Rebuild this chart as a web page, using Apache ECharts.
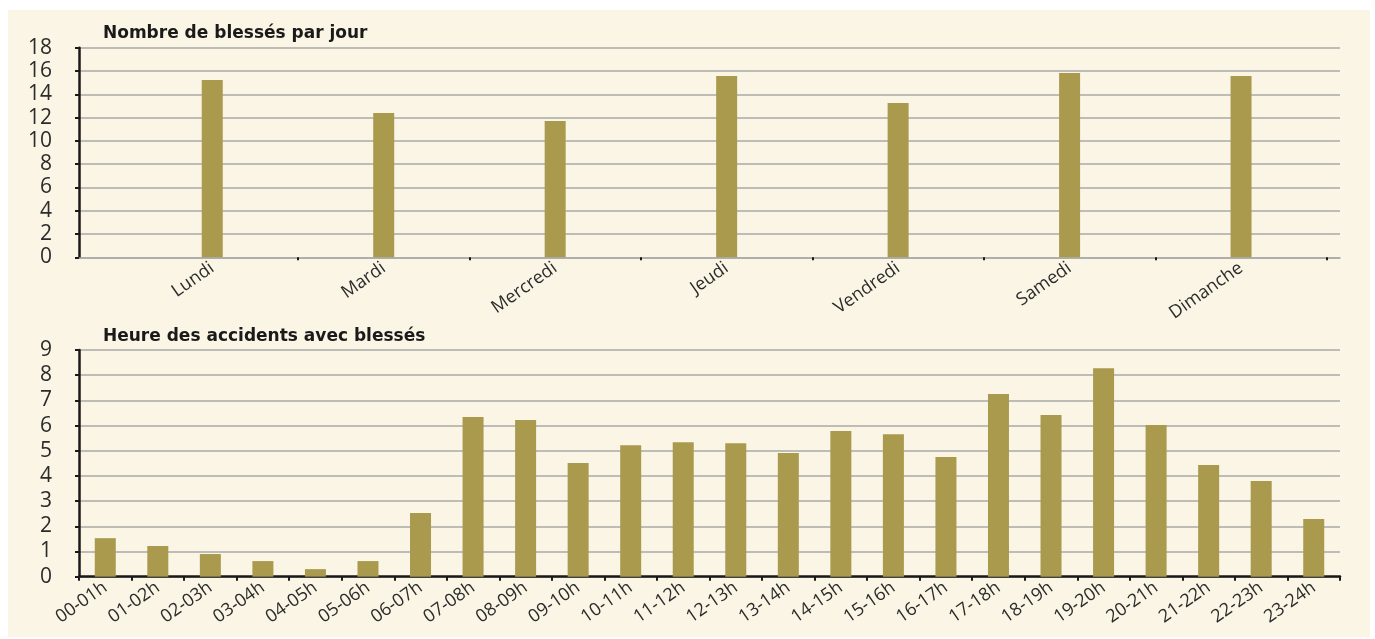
<!DOCTYPE html>
<html>
<head>
<meta charset="utf-8">
<script src="https://cdn.jsdelivr.net/npm/echarts@6/dist/echarts.min.js"></script>
<style>
html,body{margin:0;padding:0;background:#ffffff;}
#bg{position:absolute;left:8px;top:10px;width:1362px;height:627px;background:#faf5e4;}
#chart{position:absolute;left:0;top:0;width:1375px;height:639px;}
</style>
</head>
<body>
<div id="bg"></div>
<div id="chart"></div>
<script>
const dayTitle = 'Nombre de blessés par jour';
const hourTitle = 'Heure des accidents avec blessés';
const days = ['Lundi','Mardi','Mercredi','Jeudi','Vendredi','Samedi','Dimanche'];
const dayValues = [15.23, 12.39, 11.71, 15.57, 13.25, 15.83, 15.57];
const hours = ['00-01h','01-02h','02-03h','03-04h','04-05h','05-06h','06-07h','07-08h','08-09h','09-10h','10-11h','11-12h','12-13h','13-14h','14-15h','15-16h','16-17h','17-18h','18-19h','19-20h','20-21h','21-22h','22-23h','23-24h'];
const hourValues = [1.53, 1.22, 0.90, 0.62, 0.30, 0.62, 2.53, 6.34, 6.22, 4.51, 5.22, 5.34, 5.30, 4.91, 5.78, 5.66, 4.75, 7.25, 6.42, 8.28, 6.02, 4.43, 3.80, 2.29];
const dayTicks = [0, 2, 4, 6, 8, 10, 12, 14, 16, 18];
const hourTicks = [0, 1, 2, 3, 4, 5, 6, 7, 8, 9];

const FONT = '"Open Sans", "Noto Sans", sans-serif';
const TFONT = '"DejaVu Sans", "Open Sans", sans-serif';
const BAR = '#aa9a4e';
const GRID = '#a9a9a9';
const AX = '#1a1a1a';
const TXT = '#2b2b2b';

const chart = echarts.init(document.getElementById('chart'), null, {renderer:'canvas'});

const dayIdx = days.map((d,i)=>i);
const dayBounds = days.map((d,i)=>i+0.5);

chart.setOption({
  backgroundColor: 'transparent',
  animation: false,
  textStyle: {fontFamily: FONT},
  title: [
    {text: dayTitle, left: 103, top: 25, padding: 0, textStyle:{fontFamily:TFONT, fontSize:17, fontWeight:'bold', color:'#1a1a1a'}},
    {text: hourTitle, left: 103, top: 328, padding: 0, textStyle:{fontFamily:TFONT, fontSize:17, fontWeight:'bold', color:'#1a1a1a'}}
  ],
  grid: [
    {left: 79, right: 35, top: 47.7, bottom: 639-257.3, containLabel:false},
    {left: 79, right: 35, top: 350, bottom: 639-576.7, containLabel:false}
  ],
  xAxis: [
    {
      type: 'value', gridIndex: 0, min: -0.777, max: 6.577,
      splitLine: {show:false},
      axisLine: {show:true, onZero:true, lineStyle:{color:GRID, width:1.5}},
      axisTick: {show:true, customValues: dayBounds, length:3, lineStyle:{color:AX, width:2}},
      axisLabel: {show:true, customValues: dayIdx, formatter: v => days[Math.round(v)],
        rotate: 35, margin: 9, fontSize: 18, color: TXT, fontFamily: FONT}
    },
    {
      type: 'category', gridIndex: 1, data: hours, boundaryGap: true,
      axisLine: {show:true, lineStyle:{color:AX, width:2.5}},
      axisTick: {show:true, length:4, lineStyle:{color:AX, width:2}},
      axisLabel: {interval:0, rotate:35, margin: 9, fontSize:18, color: TXT, fontFamily: FONT}
    }
  ],
  yAxis: [
    {
      type: 'value', gridIndex: 0, min: dayTicks[0], max: dayTicks[dayTicks.length-1], interval: 2,
      axisLine: {show:true, onZero:false, lineStyle:{color:AX, width:2.5}},
      axisTick: {show:true, length:4, lineStyle:{color:AX, width:2}},
      axisLabel: {fontSize:21, color:TXT, margin: 27, fontFamily: FONT},
      splitLine: {show:true, lineStyle:{color:GRID, width:1.5}}
    },
    {
      type: 'value', gridIndex: 1, min: hourTicks[0], max: hourTicks[hourTicks.length-1], interval: 1,
      axisLine: {show:true, onZero:false, lineStyle:{color:AX, width:2.5}},
      axisTick: {show:true, length:4, lineStyle:{color:AX, width:2}},
      axisLabel: {fontSize:21, color:TXT, margin: 27, fontFamily: FONT},
      splitLine: {show:true, lineStyle:{color:GRID, width:1.5}}
    }
  ],
  series: [
    {type:'bar', xAxisIndex:0, yAxisIndex:0, barWidth:21, itemStyle:{color:BAR},
      data: dayValues.map((v,i)=>[i, v]), z: 3},
    {type:'bar', xAxisIndex:1, yAxisIndex:1, barWidth:21, itemStyle:{color:BAR},
      data: hourValues, z: 3}
  ]
});
</script>
</body>
</html>
